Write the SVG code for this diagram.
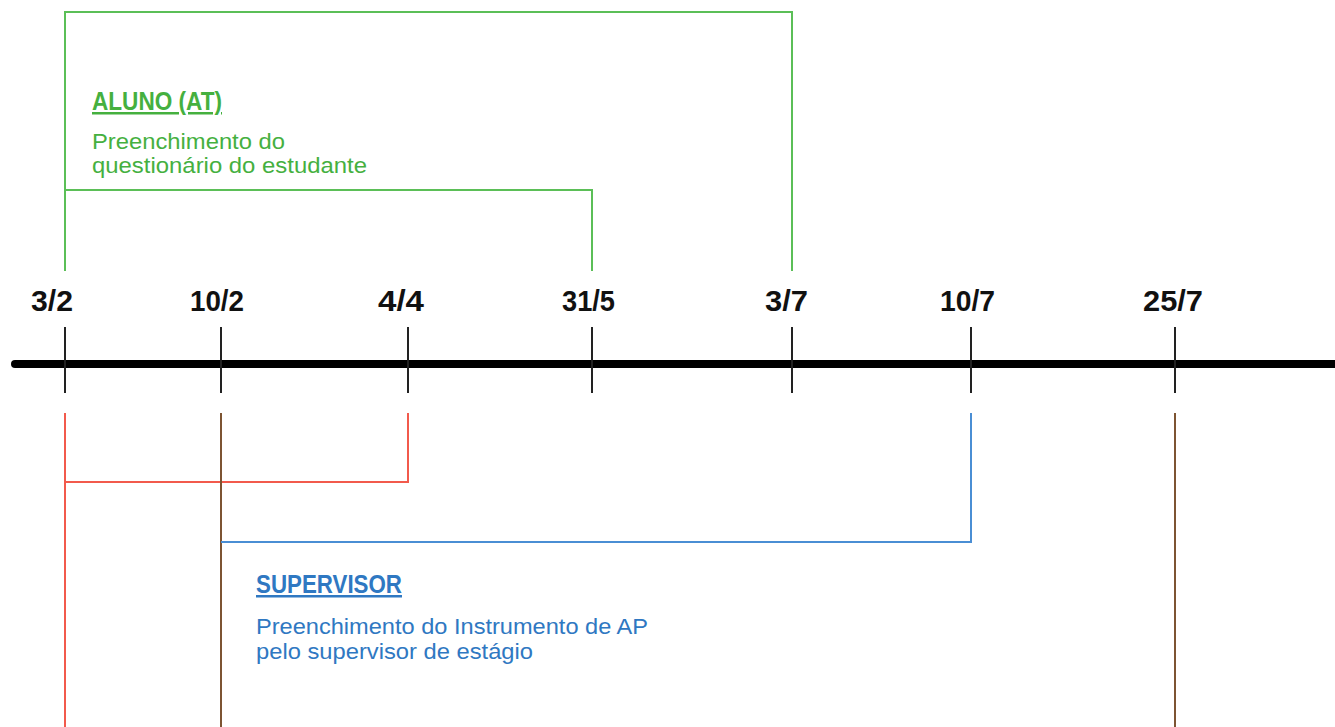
<svg xmlns="http://www.w3.org/2000/svg" width="1335" height="727" viewBox="0 0 1335 727">
<style>
.date{font-family:"Liberation Sans",Arial,sans-serif;font-weight:bold;font-size:29px;fill:#111;}
.title{font-family:"Liberation Sans",Arial,sans-serif;font-weight:bold;font-size:25px;text-decoration:underline;}
.desc{font-family:"Liberation Sans",Arial,sans-serif;font-size:22px;}
.g{fill:#45b03f;}
.b{fill:#2f78c2;}
.tick{stroke:#222;stroke-width:2;fill:none;}
.lg{stroke:#5bbf57;stroke-width:2;fill:none;}
.lr{stroke:#f25a4c;stroke-width:2;fill:none;}
.lbr{stroke:#7d5432;stroke-width:2;fill:none;}
.lb{stroke:#4a8ed4;stroke-width:2;fill:none;}
</style>
<rect width="1335" height="727" fill="#fff"/>
<g id="connectors">
<polyline class="lg" points="65,271 65,12 792,12 792,271"/>
<polyline class="lg" points="65,190 592,190 592,271"/>
<polyline class="lr" points="65,727 65,413"/>
<polyline class="lr" points="65,482 408,482 408,413"/>
<polyline class="lbr" points="221,413 221,727"/>
<polyline class="lbr" points="1175,413 1175,727"/>
<polyline class="lb" points="221,542 971,542 971,413"/>
</g>
<g id="timeline">
<line x1="15" y1="364" x2="1340" y2="364" stroke="#000" stroke-width="8" stroke-linecap="round"/>
<line class="tick" x1="65" y1="327" x2="65" y2="393"/>
<line class="tick" x1="221" y1="327" x2="221" y2="393"/>
<line class="tick" x1="408" y1="327" x2="408" y2="393"/>
<line class="tick" x1="592" y1="327" x2="592" y2="393"/>
<line class="tick" x1="792" y1="327" x2="792" y2="393"/>
<line class="tick" x1="971" y1="327" x2="971" y2="393"/>
<line class="tick" x1="1175" y1="327" x2="1175" y2="393"/>
</g>
<g id="dates">
<text class="date" x="31" y="311" textLength="42" lengthAdjust="spacingAndGlyphs">3/2</text>
<text class="date" x="190" y="311" textLength="54" lengthAdjust="spacingAndGlyphs">10/2</text>
<text class="date" x="378" y="311" textLength="46" lengthAdjust="spacingAndGlyphs">4/4</text>
<text class="date" x="562" y="311" textLength="53" lengthAdjust="spacingAndGlyphs">31/5</text>
<text class="date" x="765" y="311" textLength="43" lengthAdjust="spacingAndGlyphs">3/7</text>
<text class="date" x="940" y="311" textLength="55" lengthAdjust="spacingAndGlyphs">10/7</text>
<text class="date" x="1143" y="311" textLength="60" lengthAdjust="spacingAndGlyphs">25/7</text>
</g>
<g id="aluno">
<text class="title g" x="92" y="110" textLength="130" lengthAdjust="spacingAndGlyphs">ALUNO (AT)</text>
<text class="desc g" x="92" y="149" textLength="193" lengthAdjust="spacingAndGlyphs">Preenchimento do</text>
<text class="desc g" x="92" y="173" textLength="275" lengthAdjust="spacingAndGlyphs">questionário do estudante</text>
</g>
<g id="supervisor">
<text class="title b" x="256" y="593" textLength="146" lengthAdjust="spacingAndGlyphs">SUPERVISOR</text>
<text class="desc b" x="256" y="634" textLength="392" lengthAdjust="spacingAndGlyphs">Preenchimento do Instrumento de AP</text>
<text class="desc b" x="256" y="659" textLength="277" lengthAdjust="spacingAndGlyphs">pelo supervisor de estágio</text>
</g>
</svg>
